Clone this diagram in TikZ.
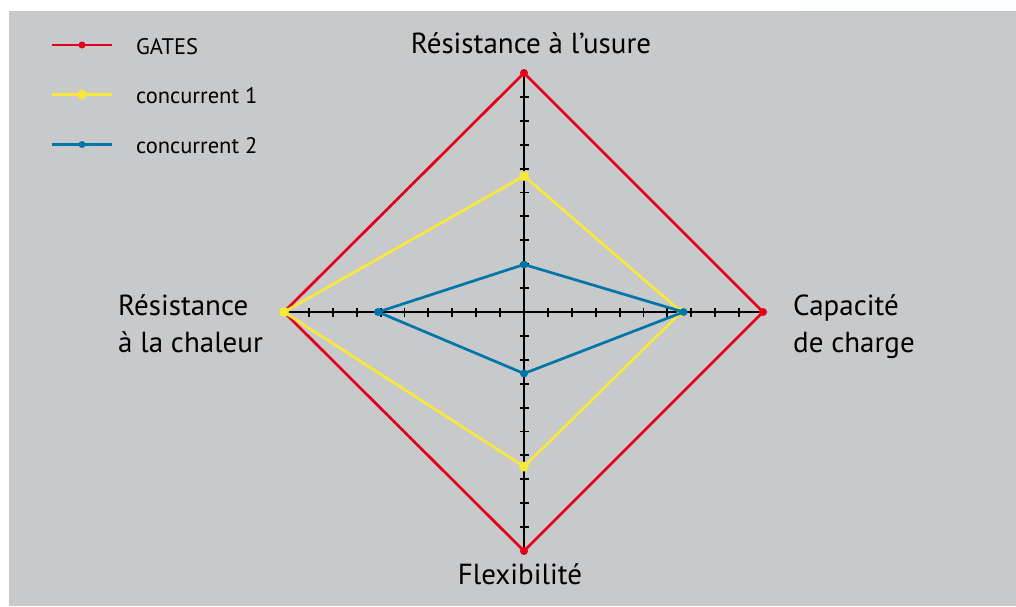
\documentclass[tikz,border=0pt]{standalone}
\usepackage{fontspec}
\setmainfont{PT Sans}
\definecolor{bggray}{HTML}{C8C9CB}
\definecolor{gred}{HTML}{E2001A}
\definecolor{gyellow}{HTML}{F7E83C}
\definecolor{gblue}{HTML}{0075A9}
\begin{document}
\begin{tikzpicture}[x=1pt,y=-1pt,
  axisline/.style={line width=2.6pt,black},
  tickmark/.style={line width=1.9pt,black},
  series/.style={line width=2.7pt,line join=miter},
  lbl/.style={font=\fontsize{29}{37.5}\selectfont,inner sep=0pt},
  leg/.style={font=\fontsize{22.5}{28}\selectfont,inner sep=0pt,anchor=base west}]
\useasboundingbox (0,0) rectangle (1016,606);
\fill[white] (0,0) rectangle (1016,606);
\shade[left color=white,right color=white!85!bggray!60!cyan!3] (760,0) rectangle (1016,11);
\fill[bggray] (9,11) rectangle (1016,606);
% centre and vertices
\coordinate (O) at (524,312);
\coordinate (T) at (524,73);
\coordinate (B) at (524,551);
\coordinate (L) at (284,312);
\coordinate (R) at (763,312);
% axes
\draw[axisline] (T) -- (B);
\draw[axisline] (L) -- (R);
\foreach \k in {1,...,9}{
  \draw[tickmark] ([xshift=-4.5pt,yshift=-\k*23.9pt]O) -- ([xshift=4.5pt,yshift=-\k*23.9pt]O);
  \draw[tickmark] ([xshift=-4.5pt,yshift=\k*23.9pt]O) -- ([xshift=4.5pt,yshift=\k*23.9pt]O);
  \draw[tickmark] ([xshift=\k*23.9pt,yshift=-4.5pt]O) -- ([xshift=\k*23.9pt,yshift=4.5pt]O);
  \draw[tickmark] ([xshift=-\k*23.9pt,yshift=-4.5pt]O) -- ([xshift=-\k*23.9pt,yshift=4.5pt]O);
}
% GATES
\draw[series,gred] (T) -- (R) -- (B) -- (L) -- cycle;
\foreach \p in {T,R,B,L} \fill[gred] (\p) circle (4pt);
% concurrent 1
\coordinate (Y1) at (524,176);
\coordinate (Y2) at (681.5,312);
\coordinate (Y3) at (524,466.5);
\coordinate (Y4) at (284,312);
\draw[series,gyellow] (Y1) -- (Y2) -- (Y3) -- (Y4) -- cycle;
\foreach \p in {Y1,Y2,Y3,Y4} \fill[gyellow] (\p) circle (5pt);
% concurrent 2
\coordinate (C1) at (524,264.5);
\coordinate (C2) at (683.5,312);
\coordinate (C3) at (524,373.5);
\coordinate (C4) at (378,312);
\draw[series,gblue] (C1) -- (C2) -- (C3) -- (C4) -- cycle;
\foreach \p in {C1,C2,C3,C4} \fill[gblue] (\p) circle (4pt);
% labels
\node[lbl,anchor=base] (lt) at (531,53.3) {Résistance à l'usure};
\node[lbl,anchor=base] (lb) at (520,584) {Flexibilité};
\node[lbl,anchor=base west] (ll) at (118,315) {Résistance};
\node[lbl,anchor=base west] (ll2) at (118,352.7) {à la chaleur};
\node[lbl,anchor=base west] (lr) at (793,315) {Capacité};
\node[lbl,anchor=base west] (lr2) at (793,352.7) {de charge};
% legend
\coordinate (a1) at (52,45); \coordinate (b1) at (112,45);
\coordinate (a2) at (52,94.5); \coordinate (b2) at (112,94.5);
\coordinate (a3) at (52,144.5); \coordinate (b3) at (112,144.5);
\draw[series,gred] (a1) -- (b1); \fill[gred] (82,45) circle (3.5pt);
\draw[series,gyellow] (a2) -- (b2); \fill[gyellow] (82,94.5) circle (5pt);
\draw[series,gblue] (a3) -- (b3); \fill[gblue] (82,144.5) circle (3.5pt);
\node[leg] (g1) at (136,54) {GATES};
\node[leg] (g2) at (136,103.5) {concurrent 1};
\node[leg] (g3) at (136,153.5) {concurrent 2};
\end{tikzpicture}
\end{document}
